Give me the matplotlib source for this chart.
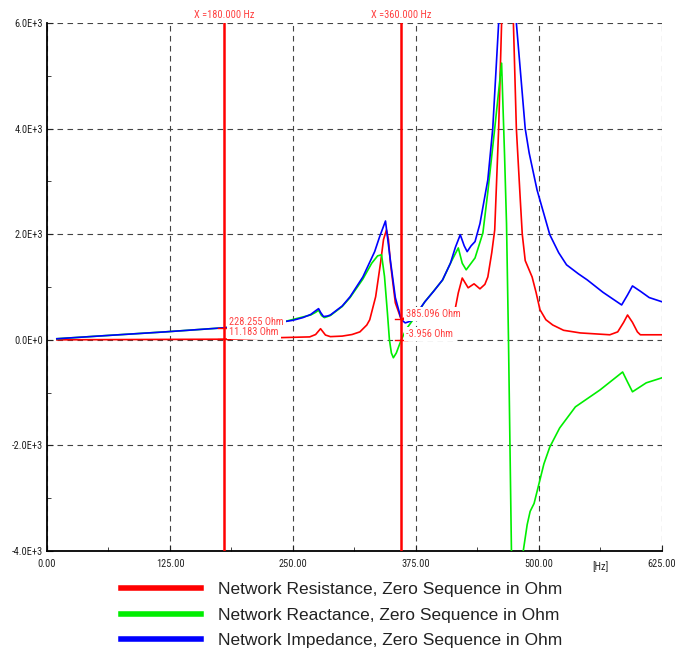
import numpy as np
import matplotlib.pyplot as plt
from matplotlib.ticker import MultipleLocator
from matplotlib.lines import Line2D

# ── Data ────────────────────────────────────────────────────
f_imp = [10, 60, 120, 180, 210, 240, 250, 260, 268, 273, 276, 278, 281, 285,
         288, 300, 308, 321, 333, 338, 344, 349, 354, 360, 364, 369, 372, 384,
         393, 402, 410, 415, 420, 424, 427, 431, 435, 440, 448, 453, 459, 463,
         468, 473, 477, 486, 490, 498, 511, 520, 528, 540, 549, 565, 584, 590,
         595, 603, 612, 625]
z_imp = [20, 80, 150, 228, 270, 340, 370, 420, 480, 550, 590, 520, 440, 450,
         470, 640, 815, 1190, 1670, 1950, 2250, 1500, 800, 385, 320, 350, 400, 720,
         920, 1135, 1450, 1750, 1990, 1780, 1670, 1780, 1860, 2200, 3030, 4000, 6000, 8000,
         9500, 8000, 6000, 4000, 3540, 2840, 1990, 1650, 1420, 1250, 1135, 900, 660, 850,
         1020, 920, 800, 720]

f_res = [10, 180, 235, 267, 273, 278, 283, 288, 300, 310, 318, 325, 328, 334,
         339, 342, 345, 347, 349, 354, 360, 364, 375, 395, 410, 415, 418, 422,
         428, 434, 440, 445, 448, 452, 455, 459, 462, 468, 474, 477, 481, 483,
         486, 493, 497, 501, 507, 514, 525, 542, 572, 580, 586, 590, 595, 600,
         603, 625]
r_res = [0, 11, 40, 55, 100, 210, 90, 60, 70, 100, 150, 280, 380, 815,
         1460, 1900, 2080, 1900, 1460, 700, 385, 420, 440, 430, 380, 600, 890, 1170,
         985, 1060, 965, 1050, 1190, 1650, 2080, 4000, 6000, 9500, 6000, 4000, 2650, 2000,
         1500, 1190, 900, 570, 380, 280, 180, 130, 95, 150, 330, 470, 330, 150,
         95, 95]

f_rea = [10, 60, 120, 180, 240, 268, 273, 276, 279, 282, 288, 300, 308, 321,
         330, 336, 340, 343, 346, 348, 350, 352, 355, 358, 360, 365, 372, 384,
         402, 410, 418, 422, 426, 431, 435, 443, 448, 455, 462, 465, 467, 469,
         472, 474, 482, 484, 488, 491, 495, 499, 505, 511, 521, 537, 562, 585,
         590, 595, 602, 609, 625]
x_rea = [20, 80, 150, 228, 338, 470, 520, 560, 460, 420, 460, 630, 800, 1150,
         1450, 1590, 1610, 1200, 500, 0, -250, -340, -250, -100, -4, 200, 380, 720,
         1130, 1450, 1740, 1450, 1325, 1450, 1550, 2025, 2800, 4000, 5240, 3500, 2200, 0,
         -4000, -7000, -7000, -4000, -3500, -3250, -3100, -2800, -2350, -2030, -1670, -1270, -950, -610,
         -800, -985, -900, -815, -720]

cursor_f = [180, 360]
cursor_top = [228.255, 385.096]
cursor_bot = [11.183, -3.956]

# ── Figure ─────────────────────────────
plt.rcParams['font.family'] = ['Liberation Sans', 'DejaVu Sans']
narrow = ['Roboto Condensed', 'Liberation Sans Narrow', 'Roboto', 'DejaVu Sans']

fig = plt.figure(figsize=(6.86, 6.48), dpi=100)
ax = fig.add_axes([0.0685, 0.1497, 0.8965, 0.8148])

ax.plot(f_res, r_res, color='#ff0000', lw=1.2, zorder=3)
ax.plot(f_rea, x_rea, color='#00ee00', lw=1.2, zorder=3)
ax.plot(f_imp, z_imp, color='#0000ff', lw=1.2, zorder=3)

ax.set_xlim(0, 625)
ax.set_ylim(-4000, 6000)

ax.xaxis.set_major_locator(MultipleLocator(125))
ax.xaxis.set_minor_locator(MultipleLocator(62.5))
ax.yaxis.set_major_locator(MultipleLocator(2000))
ax.yaxis.set_minor_locator(MultipleLocator(1000))
ax.set_xticklabels([f'{v:.2f}' for v in ax.get_xticks()], family=narrow)
ax.set_yticklabels([f'{v/1000:.1f}E+{3 if v != 0 else 0}' for v in ax.get_yticks()],
                   family=narrow)
ax.tick_params(which='both', direction='in', labelsize=7.5, colors='#222222')
ax.tick_params(axis='x', pad=6)
ax.tick_params(axis='y', pad=3)
ax.tick_params(which='major', length=4)
ax.tick_params(which='minor', length=3)
ax.text(562.5, -4190, '[Hz]', fontsize=7.5, color='#222222', ha='center', va='top',
        family=narrow)

ax.grid(True, which='major', color='#444444', ls=(0, (5, 4)), lw=0.8, zorder=1)
ax.spines['top'].set_visible(False)
ax.spines['right'].set_visible(False)
ax.spines['left'].set_linewidth(1.3)
ax.spines['bottom'].set_linewidth(1.3)

# cursors
for i, fx in enumerate(cursor_f):
    ax.axvline(fx, color='#ff0000', lw=1.8, zorder=4)
    ax.text(fx, 6000 + 50, f'X ={fx:.3f} Hz', color='#ff4040', fontsize=7.5,
            ha='center', va='bottom', clip_on=False, family=narrow)
    ax.plot([fx - 6, fx + 6], [cursor_top[i]] * 2, color='#ff0000', lw=1, zorder=4)
    ax.plot([fx - 6, fx + 6], [cursor_bot[i]] * 2, color='#ff0000', lw=1, zorder=4)
    ax.text(fx + 5, cursor_top[i] + 110, f'{cursor_top[i]:.3f} Ohm', color='#ff4040',
            fontsize=7.5, ha='left', va='center', zorder=5, family=narrow,
            bbox=dict(facecolor='white', edgecolor='none', pad=1.5))
    ax.text(fx + 5, cursor_bot[i] + 130 if i == 0 else cursor_bot[i] + 120,
            f'{cursor_bot[i]:.3f} Ohm', color='#ff4040',
            fontsize=7.5, ha='left', va='center', zorder=5, family=narrow,
            bbox=dict(facecolor='white', edgecolor='none', pad=1.5))

# legend
handles = [Line2D([], [], color='#ff0000', lw=4),
           Line2D([], [], color='#00ee00', lw=4),
           Line2D([], [], color='#0000ff', lw=4)]
labels = ['Network Resistance, Zero Sequence in Ohm',
          'Network Reactance, Zero Sequence in Ohm',
          'Network Impedance, Zero Sequence in Ohm']
fig.legend(handles, labels, loc='upper left', bbox_to_anchor=(0.176, 0.102),
           frameon=False, fontsize=12.5, handlelength=4.6, handletextpad=1.0,
           labelspacing=0.6, borderpad=0, borderaxespad=0, labelcolor='#222222')

fig.savefig('out.png', dpi=100)
